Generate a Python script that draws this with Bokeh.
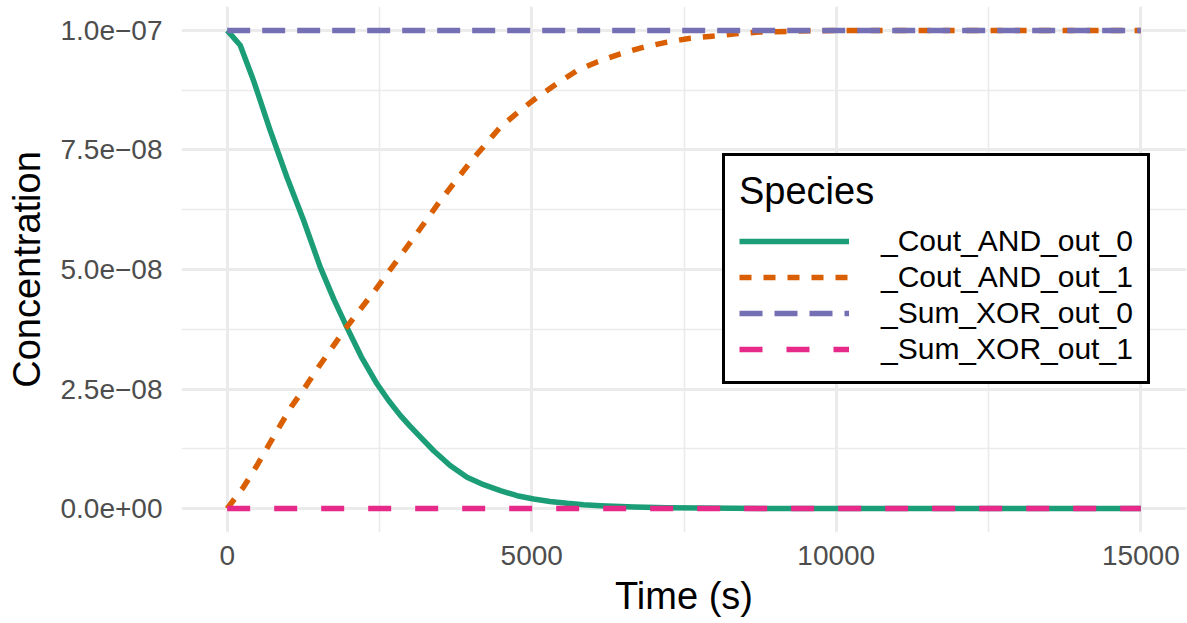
from bokeh.plotting import figure
from bokeh.models import (Range1d, FixedTicker, CustomJSTickFormatter, Legend, LegendItem)
from bokeh.embed import file_html
from bokeh.resources import INLINE

# ---- data ----
series_names = ["_Cout_AND_out_0", "_Cout_AND_out_1", "_Sum_XOR_out_0", "_Sum_XOR_out_1"]

t_cout0 = [0, 214, 433, 706, 981, 1254, 1528, 1750, 1966, 2200, 2459, 2650, 2842, 3005,
           3170, 3390, 3660, 3938, 4210, 4485, 4760, 5032, 5300, 5580, 5850, 6128, 6676,
           7224, 7772, 8320, 8868, 9416, 10500, 12000, 13500, 15000]
c_cout0 = [1.0e-7, 0.969e-7, 0.895e-7, 0.791e-7, 0.693e-7, 0.603e-7, 0.505e-7, 0.438e-7,
           0.379e-7, 0.318e-7, 0.261e-7, 0.226e-7, 0.195e-7, 0.172e-7, 0.150e-7, 0.121e-7,
           0.090e-7, 0.0655e-7, 0.050e-7, 0.0377e-7, 0.027e-7, 0.020e-7, 0.015e-7, 0.011e-7,
           0.008e-7, 0.006e-7, 0.0033e-7, 0.0018e-7, 0.0010e-7, 0.00055e-7, 0.0003e-7,
           0.00017e-7, 0.00005e-7, 0.00001e-7, 0.0, 0.0]

t_cout1 = [0, 268, 488, 679, 871, 1063, 1281, 1500, 1939, 2404, 2870, 3061, 3499, 3992,
           4485, 4814, 5088, 5417, 5745, 6074, 6456, 6840, 7224, 7580, 7963, 8346, 8729,
           9386, 10000, 11000, 12000, 13000, 14000, 15000]
c_cout1 = [0.0, 0.045e-7, 0.090e-7, 0.132e-7, 0.174e-7, 0.215e-7, 0.254e-7, 0.296e-7,
           0.376e-7, 0.4525e-7, 0.533e-7, 0.566e-7, 0.644e-7, 0.7245e-7, 0.798e-7, 0.833e-7,
           0.860e-7, 0.889e-7, 0.916e-7, 0.934e-7, 0.951e-7, 0.965e-7, 0.9756e-7, 0.983e-7,
           0.988e-7, 0.993e-7, 0.9965e-7, 0.9986e-7, 1.0e-7, 1.0e-7, 1.0e-7, 1.0e-7, 1.0e-7,
           1.0e-7]

t_sum0 = [0, 15000]
c_sum0 = [1.0e-7, 1.0e-7]

t_sum1 = [0, 15000]
c_sum1 = [0.0, 0.0]

x_ticks = [0, 5000, 10000, 15000]
x_minor = [2500, 7500, 12500]
y_ticks = [0.0, 2.5e-8, 5.0e-8, 7.5e-8, 1.0e-7]
y_minor = [1.25e-8, 3.75e-8, 6.25e-8, 8.75e-8]

colors = ["#1B9E77", "#D95F02", "#7570B3", "#E7298A"]
dashes = ["solid", "12 12", "23 12", "23 24"]

FONT = "Liberation Sans"

# 5% expansion of the data ranges (ggplot default)
x_span = max(x_ticks) - min(x_ticks)
y_span = max(y_ticks) - min(y_ticks)

p = figure(width=1187, height=623, output_backend="svg", toolbar_location=None,
           x_range=Range1d(min(x_ticks) - 0.05 * x_span, max(x_ticks) + 0.05 * x_span),
           y_range=Range1d(min(y_ticks) - 0.05 * y_span, max(y_ticks) + 0.05 * y_span),
           min_border_left=181, min_border_right=1, min_border_top=6, min_border_bottom=91)
p.outline_line_color = None
p.background_fill_color = "white"
p.border_fill_color = "white"

# axes
p.xaxis.ticker = FixedTicker(ticks=x_ticks, minor_ticks=x_minor)
p.yaxis.ticker = FixedTicker(ticks=y_ticks, minor_ticks=y_minor)
p.yaxis.formatter = CustomJSTickFormatter(code="""
const s = tick.toExponential(1);
const parts = s.split("e");
const e = parts[1];
const sign = e[0] == "-" ? "\u2212" : "+";
let d = e.slice(1);
if (d.length < 2) { d = "0" + d; }
return parts[0] + "e" + sign + d;
""")
for ax in (p.xaxis, p.yaxis):
    ax.axis_line_color = None
    ax.major_tick_line_color = None
    ax.minor_tick_line_color = None
    ax.major_tick_out = 0
    ax.major_tick_in = 0
    ax.minor_tick_out = 0
    ax.minor_tick_in = 0
    ax.major_label_text_font = FONT
    ax.major_label_text_font_size = "28px"
    ax.major_label_text_color = "#4D4D4D"
    ax.axis_label_text_font = FONT
    ax.axis_label_text_font_size = "38px"
    ax.axis_label_text_font_style = "normal"
    ax.axis_label_text_color = "black"

p.xaxis.axis_label = "Time (s)"
p.yaxis.axis_label = "Concentration"
p.xaxis.major_label_standoff = 13
p.yaxis.major_label_standoff = 19
p.xaxis.axis_label_standoff = 7
p.yaxis.axis_label_standoff = 10

# grid
for g in (p.xgrid, p.ygrid):
    g.grid_line_color = "#EBEBEB"
    g.grid_line_width = 3
    g.minor_grid_line_color = "#EBEBEB"
    g.minor_grid_line_width = 1.6

# lines
sources = [(t_cout0, c_cout0), (t_cout1, c_cout1), (t_sum0, c_sum0), (t_sum1, c_sum1)]
renderers = []
for (tx, cy), col, dsh in zip(sources, colors, dashes):
    r = p.line(tx, cy, line_color=col, line_width=5.5, line_dash=dsh, line_cap="butt",
               line_join="round")
    renderers.append(r)

legend = Legend(items=[LegendItem(label=n, renderers=[r]) for n, r in zip(series_names, renderers)],
                location=(541, 148), title="Species",
                title_text_font=FONT, title_text_font_size="38px", title_text_font_style="normal",
                title_text_color="black", title_standoff=10,
                label_text_font=FONT, label_text_font_size="30px", label_text_color="black",
                glyph_width=110, glyph_height=36, label_height=36, label_standoff=32,
                spacing=0, padding=14, margin=0,
                border_line_color="black", border_line_alpha=1.0, border_line_width=3,
                background_fill_color="white", background_fill_alpha=1.0)
p.add_layout(legend, "center")

open("out.html", "w").write(file_html(p, INLINE))
